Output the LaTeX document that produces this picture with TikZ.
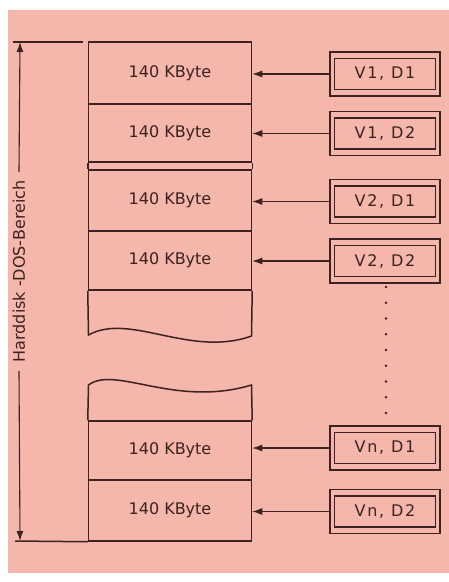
\documentclass[tikz,border=0pt]{standalone}
\usepackage{fontspec}
\setmainfont{DejaVu Sans}
\newfontfamily\vfont[LetterSpace=11]{DejaVu Sans}
\usetikzlibrary{arrows.meta}
\definecolor{sheet}{RGB}{245,182,172}
\definecolor{ink}{RGB}{60,34,32}

\begin{document}
\begin{tikzpicture}[x=1pt, y=-1pt, line width=1.5pt, color=ink,
    block/.style={draw, minimum width=163pt, minimum height=#1, inner sep=0pt, font=\fontsize{16}{19}\selectfont},
    vinner/.style={draw, minimum width=101pt, minimum height=31pt, inner sep=0pt, font=\vfont\fontsize{16}{19}\selectfont},
    vouter/.style={draw, minimum width=110pt, minimum height=44pt, inner sep=0pt},
    arr/.style={line width=1.1pt, -{Latex[length=10pt,width=7pt]}}]
        % Background
        \useasboundingbox (0,0) rectangle (449,582);
        \fill[white] (0,0) rectangle (449,582);
        \fill[sheet] (8,10) rectangle (449,573);

        % Draw memory blocks
        \node[block=62pt] (m1) at (170,73) {140 KByte};
        \node[block=58pt] (m2) at (170,133) {140 KByte};
        \node[block=61pt] (m3) at (170,200.5) {140 KByte};
        \node[block=59pt] (m4) at (170,260.5) {140 KByte};
        \node[block=59pt] (m5) at (170,450.5) {140 KByte};
        \node[block=61pt] (m6) at (170,510.5) {140 KByte};
        \draw (m2.south west) -- (m3.north west) (m2.south east) -- (m3.north east);
        \draw (m4.south west) -- (88.5,335) .. controls (130,312) and (190,358) .. (251.5,336) -- (m4.south east);
        \draw (m5.north west) -- (88.5,385) .. controls (115,365) and (175,408) .. (251.5,385) -- (m5.north east);

        % Draw drive boxes
        \node[vinner] (v1) at (385,74) {V1, D1};
        \node[vouter] (v1o) at (v1) {};
        \node[vinner] (v2) at (385,133.5) {V1, D2};
        \node[vouter] (v2o) at (v2) {};
        \node[vinner] (v3) at (385,201.5) {V2, D1};
        \node[vouter] (v3o) at (v3) {};
        \node[vinner] (v4) at (385,261) {V2, D2};
        \node[vouter] (v4o) at (v4) {};
        \node[vinner] (v5) at (385,448) {Vn, D1};
        \node[vouter] (v5o) at (v5) {};
        \node[vinner] (v6) at (385,511.5) {Vn, D2};
        \node[vouter] (v6o) at (v6) {};
        \foreach \k in {0,...,8}
            \fill (386,{287+15.75*\k}) circle (1.4pt);

        % Draw connections
        \draw[arr] (v1o.west) -- (v1o.west -| m1.east);
        \draw[arr] (v2o.west) -- (v2o.west -| m2.east);
        \draw[arr] (v3o.west) -- (v3o.west -| m3.east);
        \draw[arr] (v4o.west) -- (v4o.west -| m4.east);
        \draw[arr] (v5o.west) -- (v5o.west -| m5.east);
        \draw[arr] (v6o.west) -- (v6o.west -| m6.east);

        % Labels
        \node[rotate=90, inner xsep=8pt, inner ysep=1pt, font=\fontsize{16}{19}\selectfont] (hd) at (19,271.5) {Harddisk -DOS-Bereich};
        \coordinate (dtop) at (20,42);
        \coordinate (dbot) at (20,541);
        \draw[arr] (hd.east) -- (dtop);
        \draw[arr] (hd.west) -- (dbot);
        \draw (13,42) -- (83,42);
        \draw (15,541) -- (m6.south west);
    \end{tikzpicture}
\end{document}
